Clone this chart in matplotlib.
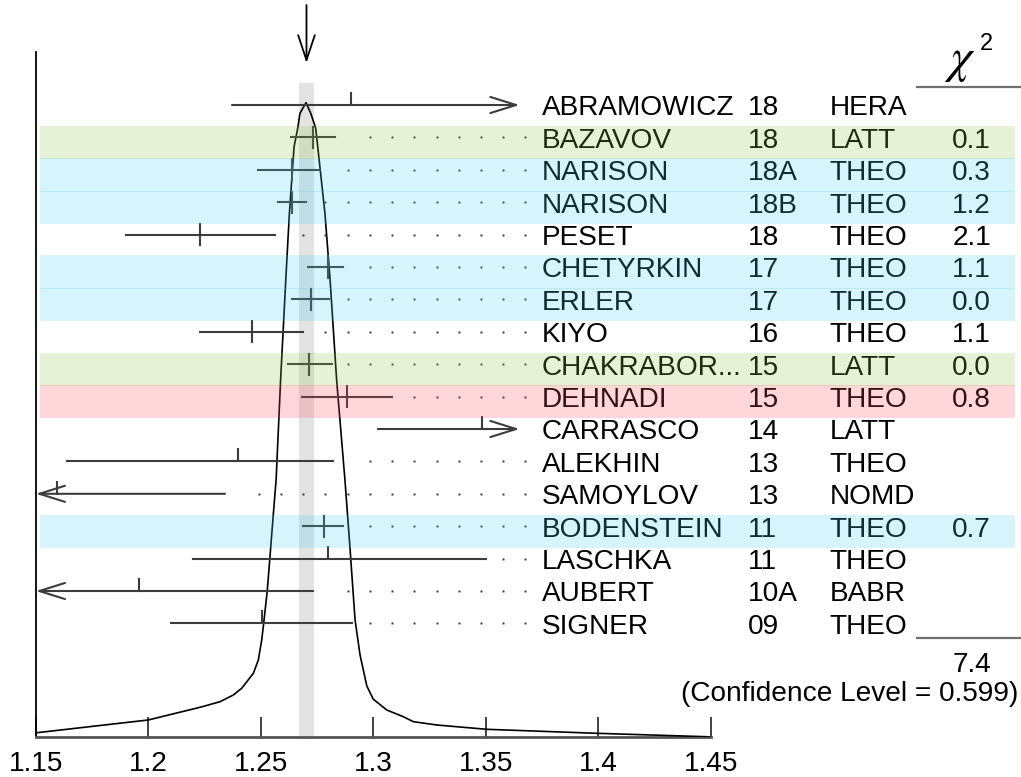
import numpy as np
import matplotlib
matplotlib.use("Agg")
import matplotlib.pyplot as plt
from matplotlib.patches import Rectangle

plt.rcParams['font.family'] = ['Liberation Sans', 'DejaVu Sans']
plt.rcParams['mathtext.fontset'] = 'stix'

# measurements (top to bottom)
names = ["ABRAMOWICZ", "BAZAVOV", "NARISON", "NARISON", "PESET", "CHETYRKIN",
         "ERLER", "KIYO", "CHAKRABOR...", "DEHNADI", "CARRASCO", "ALEKHIN",
         "SAMOYLOV", "BODENSTEIN", "LASCHKA", "AUBERT", "SIGNER"]
years = ["18", "18", "18A", "18B", "18", "17", "17", "16", "15", "15", "14",
         "13", "13", "11", "11", "10A", "09"]
techs = ["HERA", "LATT", "THEO", "THEO", "THEO", "THEO", "THEO", "THEO", "LATT",
         "THEO", "LATT", "THEO", "NOMD", "THEO", "THEO", "BABR", "THEO"]
chi2 = ["", "0.1", "0.3", "1.2", "2.1", "1.1", "0.0", "1.1", "0.0", "0.8", "",
        "", "", "0.7", "", "", ""]
centers = [1.290, 1.2733, 1.2637, 1.2637, 1.2230, 1.2800, 1.2722, 1.2460, 1.2716,
           1.2882, 1.3482, 1.2400, 1.1593, 1.2781, 1.2800, 1.1960, 1.2504]
lows = [1.2372, 1.2633, 1.2489, 1.2578, 1.1901, 1.2711, 1.2640, 1.2230, 1.2622,
        1.2682, 1.3020, 1.1637, 1.1500, 1.2689, 1.2200, 1.1500, 1.2101]
highs = [1.3650, 1.2830, 1.2763, 1.2701, 1.2563, 1.2867, 1.2805, 1.2689, 1.2815,
         1.3082, 1.3650, 1.2822, 1.2341, 1.2867, 1.3501, 1.2733, 1.2904]
arrows = ["right", "", "", "", "", "", "", "", "", "", "right", "", "left", "",
          "", "left", ""]
bands = ["", "green", "blue", "blue", "", "blue", "blue", "", "green", "red", "",
         "", "", "blue", "", "", ""]

# ideogram curve: mass, relative height
curve_m = [1.1504, 1.2000, 1.2230, 1.2319, 1.2378, 1.2415, 1.2467, 1.2489, 1.2504,
           1.2513, 1.2529, 1.2556, 1.2568, 1.2588, 1.2611, 1.2627, 1.2648, 1.2664,
           1.2674, 1.2701, 1.2722, 1.2744, 1.2753, 1.2785, 1.2808, 1.2837, 1.2874,
           1.2896, 1.2919, 1.2941, 1.2971, 1.3000, 1.3060, 1.3133, 1.3178, 1.3282,
           1.3504, 1.3993, 1.4482, 1.4500]
curve_h = [0.0072, 0.0273, 0.0473, 0.0561, 0.0667, 0.0772, 0.1009, 0.1218, 0.1533,
           0.1800, 0.2321, 0.3530, 0.4055, 0.5630, 0.7206, 0.8257, 0.9307, 0.9597,
           0.9833, 1.0000, 0.9833, 0.9597, 0.9307, 0.8257, 0.7206, 0.5630, 0.4055,
           0.3003, 0.1848, 0.1300, 0.0810, 0.0600, 0.0430, 0.0325, 0.0246, 0.0194,
           0.0126, 0.0063, 0.0009, 0.0]

avg_value = 1.2703
avg_err = 0.0033
chi2_total = "7.4"
conf_level = "(Confidence Level = 0.599)"

band_colors = {"blue": (69/255, 205/255, 241/255),
               "green": (141/255, 200/255, 69/255),
               "red": (1.0, 73/255, 87/255)}

FS = 20.2
W, H = 1021, 777
fig = plt.figure(figsize=(W/100, H/100), dpi=100)
ax = fig.add_axes([35.8/W, (H-737.3)/H, 675/W, 737.3/H])

ROW = 32.4
def px_x(px):
    return 1.15 + (px - 35.8) / 2250.0
def px_r(py):
    return (py - 105.0) / ROW

base_r = px_r(737.3)
peak_r = px_r(102.7)
ax.set_xlim(1.15, 1.45)
ax.set_ylim(base_r, px_r(0))

# average band
ax.axvspan(avg_value - avg_err, avg_value + avg_err, ymin=0, ymax=1 - 83.3/737.3,
           color='#e3e3e3', lw=0, zorder=1)

# ideogram
ch = np.array(curve_h)
ax.plot(curve_m, base_r - ch * (base_r - peak_r), color='black', lw=1.2, zorder=3)

# arrow marking the average
ax.annotate('', xy=(avg_value, px_r(63)), xytext=(avg_value, px_r(5)),
            arrowprops=dict(arrowstyle='->,head_length=1.8,head_width=0.6',
                            lw=1.3, color='black', shrinkA=0, shrinkB=0),
            annotation_clip=False, zorder=4)

ecol = '#3c3c3c'
dot_grid = 1.2886 + 0.00988 * np.arange(-14, 9)
for i in range(len(names)):
    r = i
    lo, hi, c = lows[i], highs[i], centers[i]
    if arrows[i] == "right":
        ax.annotate('', xy=(hi, r), xytext=(lo, r),
                    arrowprops=dict(arrowstyle='->,head_length=1.85,head_width=0.58',
                                    lw=1.5, color=ecol, shrinkA=0, shrinkB=0), zorder=4)
    elif arrows[i] == "left":
        ax.annotate('', xy=(lo, r), xytext=(hi, r),
                    arrowprops=dict(arrowstyle='->,head_length=1.85,head_width=0.58',
                                    lw=1.5, color=ecol, shrinkA=0, shrinkB=0), zorder=4)
    else:
        ax.plot([lo, hi], [r, r], color=ecol, lw=1.5, zorder=4)
    if chi2[i]:
        ax.plot([c, c], [r - 0.33, r + 0.33], color=ecol, lw=1.5, zorder=4)
    else:
        ax.plot([c, c], [r - 0.37, r], color=ecol, lw=1.5, zorder=4)
    if arrows[i] != "right":
        xs = dot_grid[dot_grid > hi + 0.0068]
        ax.plot(xs, [r] * len(xs), ls='none', marker='s', ms=1.4, mew=0,
                color='#333333', zorder=4)
    # text columns
    ty = r + 0.32
    ax.text(px_x(541.7), ty, names[i], fontsize=FS, va='baseline', ha='left', zorder=5)
    ax.text(px_x(747.7), ty, years[i], fontsize=FS, va='baseline', ha='left', zorder=5)
    ax.text(px_x(829.3), ty, techs[i], fontsize=FS, va='baseline', ha='left', zorder=5)
    if chi2[i]:
        ax.text(px_x(991), ty, chi2[i], fontsize=FS, va='baseline', ha='right', zorder=5)
    if bands[i]:
        ax.add_patch(Rectangle((px_x(40), r - 0.355), px_x(1015) - px_x(40), 1.03,
                               facecolor=band_colors[bands[i]], alpha=0.22, lw=0,
                               zorder=6, clip_on=False))

# chi^2 header and summary
ax.text(px_x(960), px_r(72), r'$\chi$', fontsize=35, ha='center', va='baseline')
ax.text(px_x(980), px_r(50), '2', fontsize=17, ha='left', va='baseline')
ax.plot([px_x(916.7), px_x(1021)], [px_r(87.3)] * 2, color='#707070', lw=1.6,
        clip_on=False)
ax.plot([px_x(916.7), px_x(1020)], [px_r(638.3)] * 2, color='#707070', lw=1.6,
        clip_on=False)
ax.text(px_x(991.7), px_r(671.7), chi2_total, fontsize=FS, ha='right', va='baseline')
ax.text(px_x(1018), px_r(701), conf_level, fontsize=FS, ha='right', va='baseline')

# axes styling
for s in ['top', 'right']:
    ax.spines[s].set_visible(False)
ax.spines['left'].set_bounds(base_r, px_r(52))
ax.spines['left'].set_linewidth(1.3)
ax.spines['bottom'].set_linewidth(2.0)
ax.spines['bottom'].set_color('#555555')
ax.set_yticks([])
ax.set_xticks([1.15, 1.2, 1.25, 1.3, 1.35, 1.4, 1.45])
ax.set_xticklabels(["1.15", "1.2", "1.25", "1.3", "1.35", "1.4", "1.45"])
ax.tick_params(axis='x', direction='in', length=14.4, width=1.3, pad=10,
               labelsize=FS, color='#333333')
ax.patch.set_alpha(0)

fig.savefig("out.png", dpi=100)
